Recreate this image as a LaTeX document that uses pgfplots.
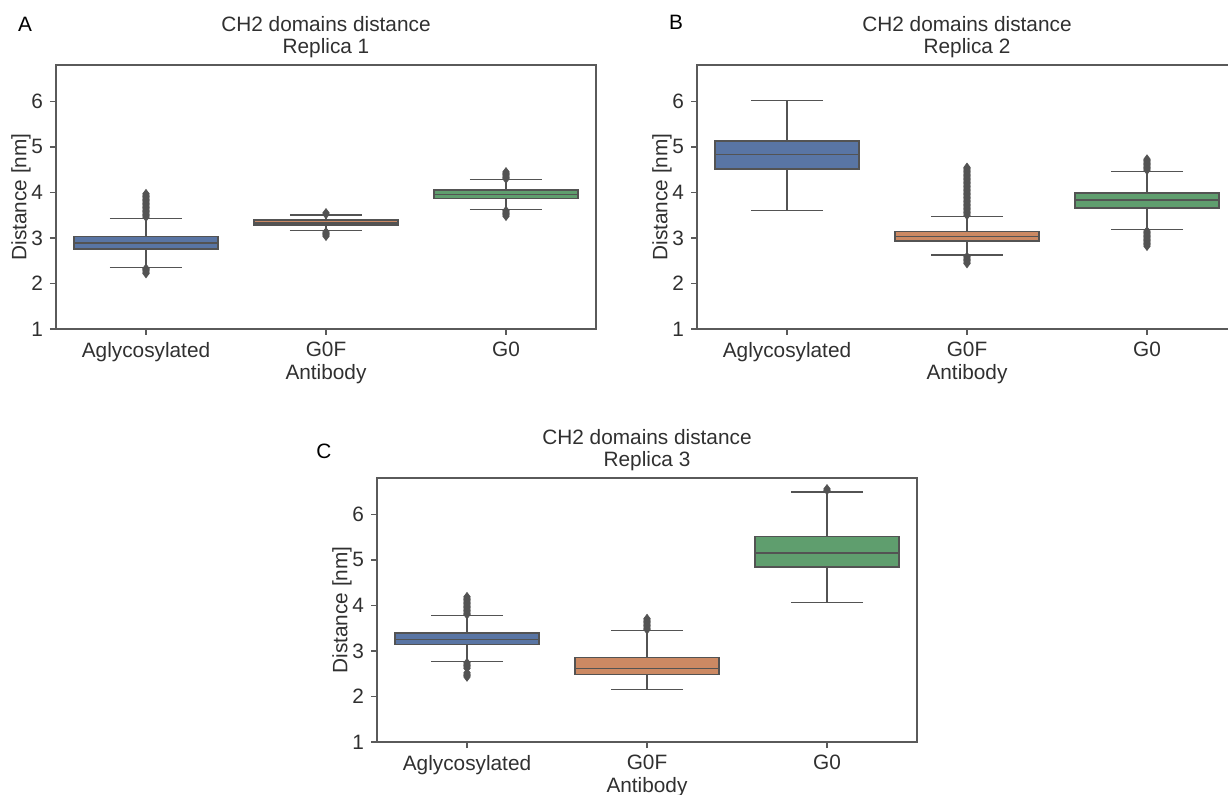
\documentclass[border=0pt]{standalone}
\usepackage{pgfplots}
\pgfplotsset{compat=1.18}
\usepgfplotslibrary{statistics}
\usepackage{fontspec}
\setmainfont{Liberation Sans}
\definecolor{cblue}{HTML}{5975A4}
\definecolor{corange}{HTML}{CC8963}
\definecolor{cgreen}{HTML}{5F9E6E}
\definecolor{lgray}{HTML}{535353}
\definecolor{axgray}{HTML}{5A5A5A}
\definecolor{txt}{HTML}{303030}
\newcommand{\fs}{\fontsize{10.4}{11}\selectfont}
\pgfplotsset{
  panel/.style={
    scale only axis, width=270pt, height=132pt,
    xmin=-0.5, xmax=2.5, ymin=1, ymax=6.8,
    xtick={0,1,2}, xticklabels={Aglycosylated,G0F,G0},
    ytick={1,2,3,4,5,6},
    tick align=outside, tick pos=left, major tick length=3pt,
    tick style={color=axgray, line width=0.6pt},
    axis line style={color=axgray, line width=0.65pt},
    xlabel=Antibody, ylabel={Distance [nm]},
    /pgf/number format/assume math mode=true,
    ticklabel style={font=\fs, text=txt},
    label style={font=\fs, text=txt},
    xlabel style={yshift=5.5pt},
    ylabel style={yshift=-6.5pt},
    title style={font=\fs, text=txt, align=center, yshift=-6pt},
    boxplot/draw direction=y,
    clip=false,
  },
  bx/.style={draw=lgray, line width=0.75pt, fill=#1,
    mark=diamond*, mark size=2.2pt, mark options={draw=lgray, fill=lgray, line width=0.3pt}},
}
\begin{document}
\begin{tikzpicture}
\useasboundingbox (0,0) rectangle (614pt,397pt);
% ---------- Panel A ----------
\begin{axis}[panel, at={(28pt,232.5pt)}, anchor=south west,
  title={CH2 domains distance\\Replica 1}]
\addplot[bx=cblue, boxplot prepared={lower whisker=2.35, lower quartile=2.76, median=2.89, upper quartile=3.03, upper whisker=3.43, draw position=0, box extend=0.8, whisker extend=0.4}]
 table[row sep=\\, y index=0]{y\\ 2.22\\ 2.25\\ 2.28\\ 2.31\\ 2.33\\ 3.46\\ 3.49\\ 3.52\\ 3.55\\ 3.58\\ 3.61\\ 3.64\\ 3.67\\ 3.70\\ 3.73\\ 3.76\\ 3.79\\ 3.82\\ 3.85\\ 3.88\\ 3.91\\ 3.94\\ 3.97\\};
\addplot[bx=corange, boxplot prepared={lower whisker=3.16, lower quartile=3.28, median=3.33, upper quartile=3.39, upper whisker=3.50, draw position=1, box extend=0.8, whisker extend=0.4}]
 table[row sep=\\, y index=0]{y\\ 3.04\\ 3.07\\ 3.10\\ 3.13\\ 3.52\\ 3.55\\};
\addplot[bx=cgreen, boxplot prepared={lower whisker=3.63, lower quartile=3.87, median=3.96, upper quartile=4.05, upper whisker=4.28, draw position=2, box extend=0.8, whisker extend=0.4}]
 table[row sep=\\, y index=0]{y\\ 3.48\\ 3.51\\ 3.54\\ 3.57\\ 3.60\\ 4.30\\ 4.33\\ 4.36\\ 4.39\\ 4.42\\ 4.45\\};
\end{axis}
% ---------- Panel B ----------
\begin{axis}[panel, at={(348.5pt,232.5pt)}, anchor=south west,
  title={CH2 domains distance\\Replica 2}]
\addplot[bx=cblue, boxplot prepared={lower whisker=3.60, lower quartile=4.51, median=4.83, upper quartile=5.13, upper whisker=6.02, draw position=0, box extend=0.8, whisker extend=0.4}]
 table[row sep=\\, y index=0]{y\\};
\addplot[bx=corange, boxplot prepared={lower whisker=2.63, lower quartile=2.93, median=3.03, upper quartile=3.14, upper whisker=3.47, draw position=1, box extend=0.8, whisker extend=0.4}]
 table[row sep=\\, y index=0]{y\\ 2.44\\ 2.47\\ 2.50\\ 2.53\\ 2.56\\ 2.59\\ 3.50\\ 3.53\\ 3.56\\ 3.59\\ 3.62\\ 3.65\\ 3.68\\ 3.71\\ 3.74\\ 3.77\\ 3.80\\ 3.83\\ 3.86\\ 3.89\\ 3.92\\ 3.95\\ 3.98\\ 4.01\\ 4.04\\ 4.07\\ 4.10\\ 4.13\\ 4.16\\ 4.19\\ 4.22\\ 4.25\\ 4.28\\ 4.31\\ 4.34\\ 4.37\\ 4.40\\ 4.43\\ 4.46\\ 4.49\\ 4.52\\ 4.55\\};
\addplot[bx=cgreen, boxplot prepared={lower whisker=3.19, lower quartile=3.66, median=3.83, upper quartile=3.99, upper whisker=4.46, draw position=2, box extend=0.8, whisker extend=0.4}]
 table[row sep=\\, y index=0]{y\\ 2.82\\ 2.85\\ 2.88\\ 2.91\\ 2.94\\ 2.97\\ 3.00\\ 3.03\\ 3.06\\ 3.09\\ 3.12\\ 3.15\\ 4.49\\ 4.52\\ 4.55\\ 4.58\\ 4.61\\ 4.64\\ 4.67\\ 4.70\\ 4.73\\};
\end{axis}
% ---------- Panel C ----------
\begin{axis}[panel, at={(188.5pt,26pt)}, anchor=south west,
  title={CH2 domains distance\\Replica 3}]
\addplot[bx=cblue, boxplot prepared={lower whisker=2.77, lower quartile=3.14, median=3.25, upper quartile=3.40, upper whisker=3.78, draw position=0, box extend=0.8, whisker extend=0.4}]
 table[row sep=\\, y index=0]{y\\ 2.43\\ 2.46\\ 2.49\\ 2.52\\ 2.62\\ 2.65\\ 2.68\\ 2.71\\ 2.74\\ 3.80\\ 3.83\\ 3.86\\ 3.89\\ 3.92\\ 3.95\\ 3.98\\ 4.01\\ 4.04\\ 4.07\\ 4.10\\ 4.13\\ 4.16\\ 4.19\\};
\addplot[bx=corange, boxplot prepared={lower whisker=2.15, lower quartile=2.48, median=2.61, upper quartile=2.86, upper whisker=3.45, draw position=1, box extend=0.8, whisker extend=0.4}]
 table[row sep=\\, y index=0]{y\\ 3.47\\ 3.50\\ 3.53\\ 3.56\\ 3.59\\ 3.62\\ 3.65\\ 3.68\\ 3.71\\};
\addplot[bx=cgreen, boxplot prepared={lower whisker=4.07, lower quartile=4.84, median=5.15, upper quartile=5.51, upper whisker=6.49, draw position=2, box extend=0.8, whisker extend=0.4}]
 table[row sep=\\, y index=0]{y\\ 6.53\\ 6.56\\};
\end{axis}
\node[font=\fs, text=black] at (12.5pt,385pt) {A};
\node[font=\fs, text=black] at (338pt,386pt) {B};
\node[font=\fs, text=black] at (162pt,171.5pt) {C};
\end{tikzpicture}
\end{document}
